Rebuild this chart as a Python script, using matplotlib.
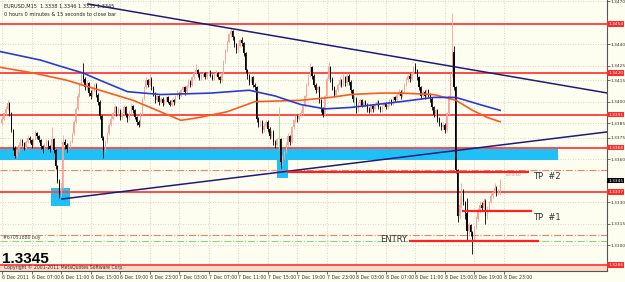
import numpy as np
import matplotlib.pyplot as plt
import matplotlib.transforms as mtransforms

base = 1.3300
pip = 0.0001

# EURUSD M15 candles from 6 Dec 03:00, values in pips above 1.3300
closes = [88, 92, 95, 99, 92, 80, 68, 62, 66, 70,
          73, 71, 68, 72, 75, 73, 70, 74, 78, 76,
          73, 69, 67, 70, 72, 69, 67, 74, 66, 55,
          45, 38, 40, 72, 70, 67, 69, 72, 78, 86,
          95, 104, 112, 118, 116, 110, 113, 106, 104, 108,
          112, 105, 100, 90, 75, 66, 72, 78, 84, 88,
          92, 96, 92, 94, 89, 92, 96, 91, 88, 92,
          97, 94, 89, 86, 84, 92, 102, 110, 115, 112,
          116, 110, 106, 101, 104, 100, 102, 99, 101, 103,
          100, 98, 101, 100, 104, 106, 104, 108, 110, 107,
          111, 114, 112, 117, 120, 122, 119, 116, 118, 120,
          117, 119, 121, 118, 116, 119, 120, 117, 115, 120,
          128, 136, 142, 147, 149, 145, 140, 136, 139, 143,
          141, 134, 122, 118, 114, 117, 112, 110, 88, 84,
          86, 80, 83, 86, 81, 76, 79, 72, 70, 74,
          74, 58, 62, 65, 70, 76, 72, 82, 87, 90,
          88, 91, 92, 97, 104, 112, 118, 124, 118, 112,
          108, 110, 101, 95, 91, 104, 116, 124, 116, 110,
          105, 108, 112, 115, 112, 117, 113, 118, 114, 108,
          102, 102, 94, 99, 101, 97, 100, 98, 95, 93,
          97, 95, 98, 100, 96, 94, 97, 99, 96, 98,
          101, 99, 103, 101, 105, 107, 104, 108, 112, 115,
          118, 116, 120, 124, 122, 117, 110, 104, 107, 104,
          108, 105, 102, 96, 91, 94, 88, 85, 82, 84,
          80, 92, 104, 118, 135, 110, 52, 20, 28, 38,
          30, 22, 10, 14, 9, 4, 12, 18, 24, 28,
          26, 31, 20, 25, 30, 34, 37, 40, 36, 38,
          45]
highs = [90, 93, 97, 101, 100, 93, 81, 69, 67, 72,
         75, 74, 72, 73, 77, 76, 74, 75, 80, 79,
         77, 74, 70, 71, 74, 73, 70, 82, 75, 67,
         56, 46, 43, 77, 74, 71, 71, 73, 79, 87,
         96, 106, 113, 120, 127, 117, 115, 114, 108, 110,
         113, 113, 106, 101, 91, 76, 73, 79, 85, 90,
         93, 98, 97, 96, 95, 93, 98, 97, 92, 94,
         99, 98, 95, 90, 87, 93, 103, 111, 117, 116,
         120, 117, 111, 107, 105, 105, 103, 103, 102, 104,
         104, 101, 102, 102, 105, 108, 107, 109, 111, 111,
         112, 116, 115, 118, 121, 126, 123, 120, 119, 121,
         121, 120, 122, 122, 119, 120, 122, 121, 118, 121,
         129, 137, 143, 148, 152, 150, 146, 141, 140, 144,
         145, 142, 135, 123, 119, 118, 118, 113, 111, 89,
         87, 87, 85, 87, 87, 82, 80, 80, 73, 75,
         96, 75, 63, 66, 72, 78, 77, 83, 88, 91,
         91, 92, 94, 98, 105, 113, 119, 127, 125, 119,
         113, 111, 111, 102, 96, 105, 117, 128, 125, 117,
         111, 109, 113, 117, 116, 119, 118, 120, 119, 115,
         109, 105, 103, 100, 102, 102, 101, 101, 99, 96,
         98, 98, 99, 101, 101, 97, 98, 100, 100, 99,
         102, 102, 104, 104, 106, 109, 108, 109, 113, 117,
         119, 120, 121, 125, 127, 123, 118, 111, 108, 108,
         109, 109, 106, 103, 97, 95, 95, 89, 86, 86,
         85, 93, 105, 120, 162, 139, 111, 53, 35, 43,
         39, 31, 33, 16, 15, 10, 13, 20, 26, 31,
         30, 33, 32, 27, 31, 36, 38, 43, 41, 39,
         46]
lows = [84, 87, 90, 94, 90, 79, 66, 61, 61, 65,
        69, 69, 66, 67, 71, 71, 68, 69, 73, 74,
        72, 67, 64, 66, 69, 67, 65, 66, 64, 53,
        43, 33, 34, 39, 67, 65, 66, 68, 71, 77,
        85, 94, 103, 111, 114, 108, 108, 104, 102, 103,
        107, 103, 98, 88, 73, 61, 65, 71, 77, 83,
        87, 91, 90, 91, 87, 88, 91, 89, 86, 87,
        91, 92, 88, 84, 82, 83, 91, 101, 109, 110,
        111, 108, 104, 99, 100, 98, 99, 97, 98, 100,
        99, 97, 97, 98, 99, 103, 102, 103, 107, 105,
        106, 110, 110, 111, 116, 119, 117, 115, 115, 117,
        116, 116, 118, 117, 115, 115, 118, 116, 113, 114,
        119, 127, 135, 141, 145, 143, 138, 134, 135, 138,
        139, 132, 120, 116, 112, 113, 110, 108, 86, 82,
        83, 78, 79, 82, 79, 74, 75, 70, 68, 69,
        66, 54, 56, 60, 64, 69, 70, 71, 81, 86,
        86, 87, 90, 91, 96, 103, 111, 117, 116, 110,
        106, 107, 99, 93, 89, 90, 103, 115, 114, 108,
        103, 104, 107, 111, 110, 111, 111, 112, 112, 106,
        100, 96, 92, 93, 98, 96, 96, 97, 93, 92,
        92, 93, 94, 97, 95, 93, 93, 96, 95, 95,
        97, 98, 98, 100, 100, 104, 102, 103, 107, 111,
        114, 114, 115, 119, 120, 115, 108, 102, 103, 102,
        103, 103, 100, 94, 89, 90, 86, 83, 80, 81,
        78, 79, 91, 103, 117, 108, 50, 16, 18, 26,
        28, 18, 3, 8, 6, -6, 3, 11, 17, 22,
        24, 25, 15, 18, 24, 29, 33, 36, 34, 35,
        35]
first_open = 85

# moving averages, sampled (bar, pips)
ma_blue_x = [-1, 10, 21, 31, 44, 53, 68, 86, 113, 134, 148, 162, 175, 189, 216, 234, 246, 259, 270]
ma_blue_y = [135, 132, 129, 125, 120, 115, 107, 105, 106, 108, 104, 98, 95, 96, 100, 103, 103, 98, 94]
ma_red_x = [-1, 17, 35, 53, 71, 84, 97, 107, 122, 137, 162, 178, 189, 205, 216, 234, 246, 255, 263, 270]
ma_red_y = [124, 120, 115, 108, 101, 94, 87, 89, 93, 100, 101, 103, 105, 106, 106, 105, 101, 94, 89, 86]

# horizontal levels
red_levels = [1.3454, 1.3420, 1.3391, 1.3368, 1.3337, 1.3286]
tp2, tp1, entry = 1.3351, 1.3324, 1.3303
sl_dash, buy_dash, tp_dash = 1.3307, 1.3303, 1.3352
last_price = 1.3345

x_labels = ['6 Dec 2011', '6 Dec 07:00', '6 Dec 11:00', '6 Dec 15:00', '6 Dec 19:00',
            '6 Dec 23:00', '7 Dec 03:00', '7 Dec 07:00', '7 Dec 11:00', '7 Dec 15:00',
            '7 Dec 19:00', '7 Dec 23:00', '8 Dec 03:00', '8 Dec 07:00', '8 Dec 11:00',
            '8 Dec 15:00', '8 Dec 19:00', '8 Dec 23:00']
y_ticks = [1.3470, 1.3440, 1.3425, 1.3415, 1.3400, 1.3385, 1.3375,
           1.3360, 1.3330, 1.3315, 1.3300]

bg = '#fefef0'
fig = plt.figure(figsize=(6.25, 2.82), dpi=100, facecolor=bg)
ax = fig.add_axes([0, 11 / 282, 607 / 625, 271 / 282], facecolor=bg)

o = np.array([first_open] + closes[:-1]) * pip + base
c = np.array(closes) * pip + base
h = np.array(highs) * pip + base
l = np.array(lows) * pip + base
idx = np.arange(len(c))

# zones
ax.axhspan(1.33593, 1.33677, xmin=0, xmax=(301.4 + 1.08) / 329, color='#1ec0f5', zorder=1, lw=0)
ax.fill_between([26.6, 36.9], 1.33272, 1.33398, color='#1ec0f5', zorder=1, lw=0)
ax.fill_between([149, 155], 1.33468, 1.33628, color='#1ec0f5', zorder=1, lw=0)
ax.axhspan(1.3281, red_levels[-1], color='#fcd9c4', zorder=1, lw=0)

# grid
ax.set_axisbelow(True)
ax.grid(True, color='#c8c8c0', ls=(0, (1, 2)), lw=0.6)

for lv in red_levels:
    ax.axhline(lv, color='#ff4a4a', lw=1.4, zorder=2)
ax.axhline(tp_dash, color='#f08070', lw=0.8, ls='-.', zorder=2)
ax.axhline(sl_dash, color='#f08070', lw=0.8, ls='-.', zorder=2)
ax.axhline(buy_dash, color='#88d888', lw=0.8, ls='-.', zorder=2)

# candles
up = c > o
dn = c < o
dj = c == o
for mask, col in [(up, '#f7a49c'), (dn, 'black'), (dj, '#88e088')]:
    ax.vlines(idx[mask], l[mask], h[mask], color=col, lw=0.6, zorder=4)
    bot = np.minimum(o, c)[mask]
    hgt = np.maximum(np.abs(c - o)[mask], 0.00004)
    ax.bar(idx[mask], hgt, bottom=bot, width=0.6, color=col, lw=0, zorder=4)

# moving averages
ax.plot(ma_red_x, np.array(ma_red_y) * pip + base, color='#ff5a1e', lw=1.2, zorder=5)
ax.plot(ma_blue_x, np.array(ma_blue_y) * pip + base, color='#2a3ad8', lw=1.2, zorder=5)

# trendlines
ax.plot([46.6, 327.9], [1.34682, 1.34061], color='#1c1c7a', lw=1.1, zorder=6)
ax.plot([32.5, 327.9], [1.33321, 1.33789], color='#1c1c7a', lw=1.1, zorder=6)

# trade levels
ax.plot([155, 285], [tp2, tp2], color='#ff2020', lw=1.6, zorder=6)
ax.plot([250, 286.7], [tp1, tp1], color='#ff2020', lw=1.6, zorder=6)
ax.plot([221, 290.5], [entry, entry], color='#ff2020', lw=1.6, zorder=6)
ax.text(288, 1.33475, 'TP  #2', fontsize=6, color='#333333', va='center', zorder=7)
ax.text(288, 1.33195, 'TP  #1', fontsize=6, color='#333333', va='center', zorder=7)
ax.text(219.5, 1.33035, 'ENTRY', fontsize=6, color='#333333', va='center', ha='right', zorder=7)
ax.text(272.5, 1.3349, '<0:0:10', fontsize=3, color='#d08080', va='center', zorder=7)
ax.text(0.5, 1.33055, '#67051880 buy', fontsize=3.3, color='#444444', va='center', zorder=7)

# header texts
ax.text(0.006, 0.985, 'EURUSD,M15  1.3338 1.3346 1.3335 1.3345', transform=ax.transAxes,
        fontsize=3.6, color='#222222', va='top', zorder=7)
ax.text(0.006, 0.955, '0 hours 0 minutes & 15 seconds to close bar', transform=ax.transAxes,
        fontsize=3.6, color='#222222', va='top', zorder=7)
ax.text(0.003, 0.018, '1.3345', transform=ax.transAxes, fontsize=11, fontweight='bold',
        family='Liberation Sans', color='black', va='bottom', zorder=7)
ax.text(0.006, 0.003, 'Copyright \u00a9 2001-2011 MetaQuotes Software Corp.', transform=ax.transAxes,
        fontsize=3.3, color='#333333', va='bottom', zorder=7)

# axes
ax.set_xlim(-1.08, 327.9)
ax.set_ylim(1.328186, 1.347097)
ax.yaxis.tick_right()
ax.set_yticks(y_ticks)
ax.set_yticklabels(['%.4f' % v for v in y_ticks])
ax.set_xticks(np.arange(len(x_labels)) * 16)
ax.set_xticklabels(x_labels, ha='left')
ax.tick_params(axis='x', labelsize=3.3, colors='#333333', length=2, width=0.5, pad=1)
ax.tick_params(axis='y', labelsize=3.2, colors='#333333', length=2, width=0.5, pad=0.5)
for s in ['left', 'top']:
    ax.spines[s].set_visible(False)
for s in ['right', 'bottom']:
    ax.spines[s].set_color('#555555')
    ax.spines[s].set_linewidth(0.8)

# price labels on the axis
trans = mtransforms.blended_transform_factory(ax.transAxes, ax.transData)
for lv in red_levels:
    ax.text(1.002, lv, '%.4f' % lv, transform=trans, fontsize=3.2, color='white', va='center',
            bbox=dict(boxstyle='square,pad=0.2', fc='#ff2a2a', ec='none'), clip_on=False, zorder=8)
ax.text(1.002, last_price, '%.4f' % last_price, transform=trans, fontsize=3.2, color='white',
        va='center', bbox=dict(boxstyle='square,pad=0.2', fc='black', ec='none'), clip_on=False, zorder=8)

fig.savefig('out.png', dpi=100, facecolor=bg)
